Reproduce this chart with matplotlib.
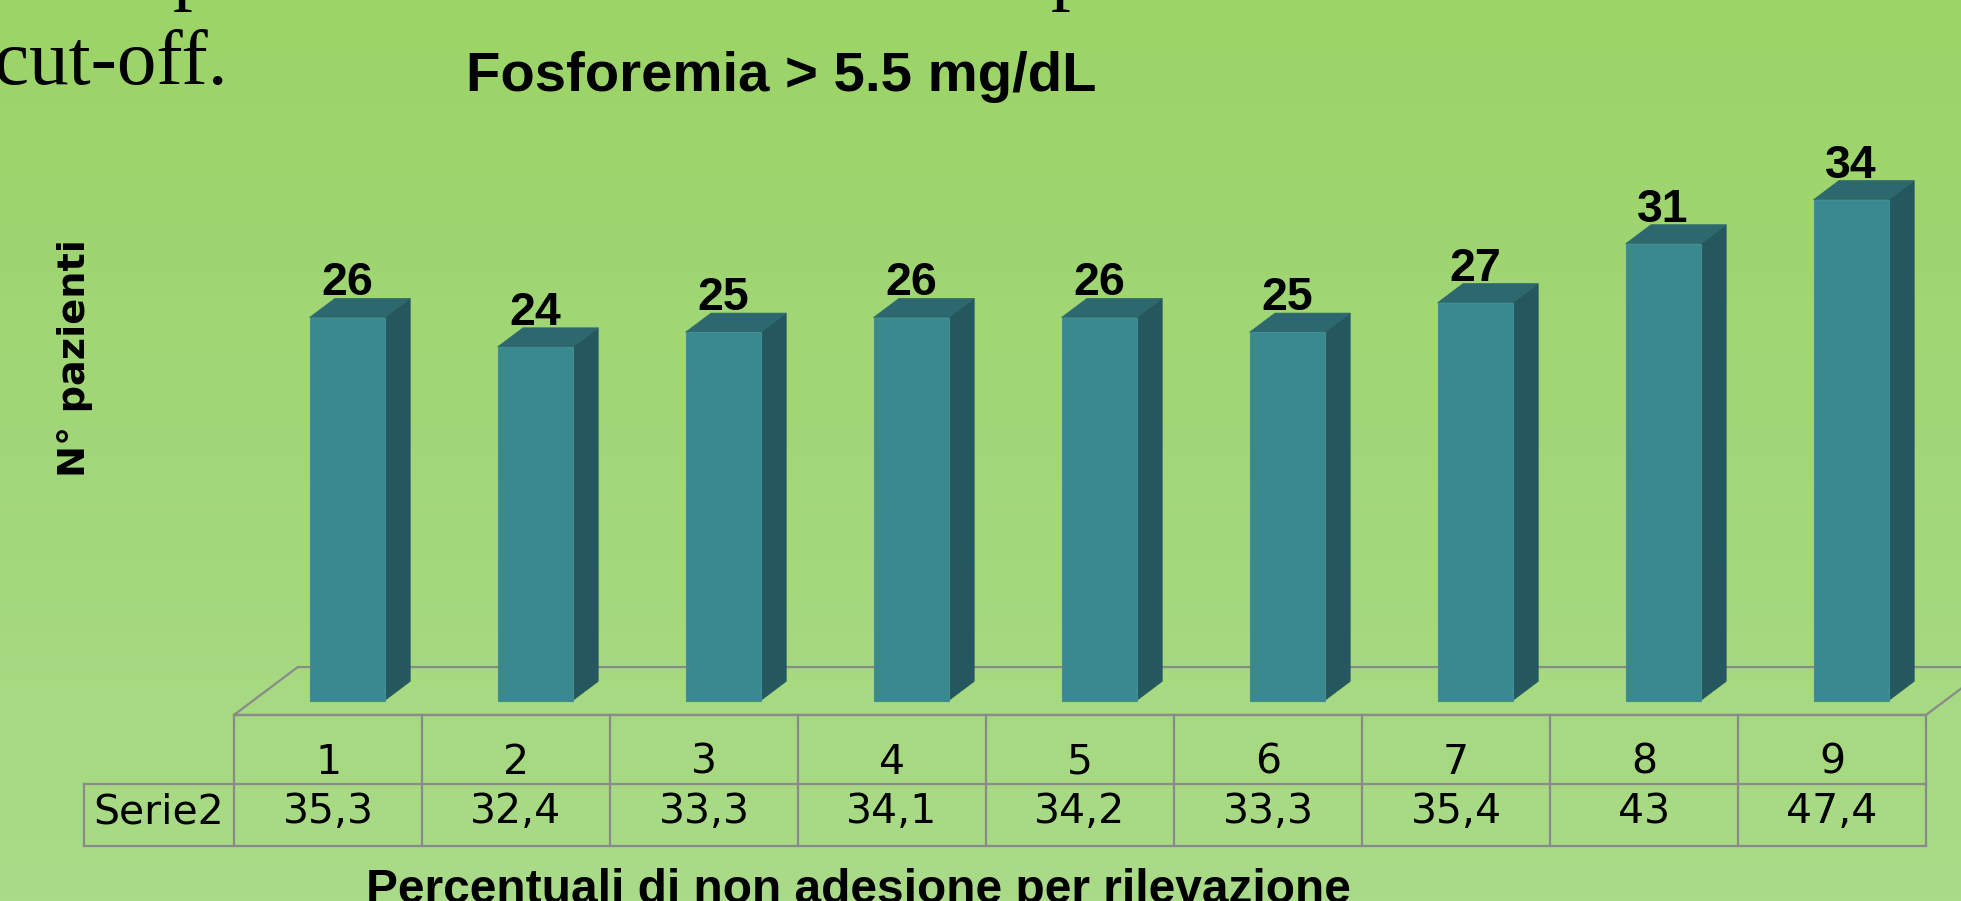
import numpy as np
import matplotlib.pyplot as plt
from matplotlib.patches import Polygon
from matplotlib.colors import LinearSegmentedColormap

categorie = ['1', '2', '3', '4', '5', '6', '7', '8', '9']
pazienti = [26, 24, 25, 26, 26, 25, 27, 31, 34]
percentuali = [35.3, 32.4, 33.3, 34.1, 34.2, 33.3, 35.4, 43, 47.4]
serie_nome = 'Serie2'

W, H = 1961, 901
fig = plt.figure(figsize=(W / 100, H / 100), dpi=100)

# slide background gradient
bg = fig.add_axes([0, 0, 1, 1])
cmap = LinearSegmentedColormap.from_list('bg', ['#9cd467', '#a2d779', '#aadb88'])
bg.imshow(np.linspace(0, 1, 256).reshape(-1, 1), aspect='auto', cmap=cmap,
          extent=[0, 1, 0, 1])
bg.set_xlim(0, 1)
bg.set_ylim(0, 1)
bg.axis('off')

# pieces of the slide text around the chart
bg.text(-0.003, 1 - 84 / H, 'cut-off.', family='Liberation Serif', fontsize=57,
        ha='left', va='baseline', transform=bg.transAxes)
for xp in (192, 1070):
    bg.text(xp / W, 1 + 5 / H, 'p', family='Liberation Serif', fontsize=57,
            ha='center', va='baseline', transform=bg.transAxes)

grey = '#8a8a8a'
front_c = '#3a898f'
side_c = '#25585e'
top_c = '#2d686e'

# main 3D-looking bar area
ymin, ymax = -0.98, 41
px_unit = 14.73
y0_pix = 700.5
bot = (H - (y0_pix - ymin * px_unit)) / H
top = (H - (y0_pix - ymax * px_unit)) / H
ax = fig.add_axes([234 / W, bot, 1692 / W, top - bot])
ax.set_xlim(-0.5, len(categorie) - 0.5)
ax.set_ylim(ymin, ymax)
ax.axis('off')

floor_dx, floor_dy = 0.339, 2.27 - ymin
n = len(categorie)
floor = [(-0.5, ymin), (n - 0.5, ymin), (n - 0.5 + floor_dx, ymin + floor_dy),
         (-0.5 + floor_dx, ymin + floor_dy)]
ax.add_patch(Polygon(floor, closed=True, fill=False, edgecolor=grey, lw=1.6,
                     clip_on=False, zorder=1))

bw = 0.4
f0, f1 = 0.3, 0.7
bdx = (f1 - f0) * floor_dx
bdy = (f1 - f0) * floor_dy
for i, v in enumerate(pazienti):
    x0 = i + f0 * floor_dx - bw / 2
    x1 = x0 + bw
    front = [(x0, 0), (x1, 0), (x1, v), (x0, v)]
    side = [(x1, 0), (x1 + bdx, bdy), (x1 + bdx, v + bdy), (x1, v)]
    cap = [(x0, v), (x1, v), (x1 + bdx, v + bdy), (x0 + bdx, v + bdy)]
    ax.add_patch(Polygon(side, closed=True, facecolor=side_c, edgecolor=side_c,
                         lw=0.5, zorder=2))
    ax.add_patch(Polygon(cap, closed=True, facecolor=top_c, edgecolor=top_c,
                         lw=0.5, zorder=2))
    ax.add_patch(Polygon(front, closed=True, facecolor=front_c, edgecolor='#3f8f95',
                         lw=0.8, zorder=3))
    ax.text((x0 + x1) / 2, v + bdy + 0.2, str(v), family='Liberation Sans',
            fontweight='bold', fontsize=33.5, ha='center', va='baseline', zorder=4)

# data table below the bars
tab = fig.add_axes([84 / W, (H - 846) / H, 1842 / W, 131 / H])
left_edge = -0.5 - 150 / 188
tab.set_xlim(left_edge, n - 0.5)
tab.set_ylim(0, 1)
tab.axis('off')
mid = 62 / 131
kw = dict(color=grey, lw=1.6, clip_on=False)
tab.plot([-0.5, n - 0.5], [1, 1], **kw)
tab.plot([left_edge, n - 0.5], [mid, mid], **kw)
tab.plot([left_edge, n - 0.5], [0, 0], **kw)
for k in range(n + 1):
    tab.plot([k - 0.5, k - 0.5], [0, 1], **kw)
tab.plot([left_edge, left_edge], [0, mid], **kw)

for i, (c, p) in enumerate(zip(categorie, percentuali)):
    tab.text(i, (846 - 774) / 131, c, family='DejaVu Sans', fontsize=29.5,
             ha='center', va='baseline')
    tab.text(i, (846 - 823) / 131, f'{p:g}'.replace('.', ','), family='DejaVu Sans',
             fontsize=29.5, ha='center', va='baseline')
tab.text((left_edge - 0.5) / 2, (846 - 823) / 131, serie_nome, family='DejaVu Sans',
         fontsize=29.5, ha='center', va='baseline')

# titles
fig.text(781 / W, 1 - 91 / H, 'Fosforemia > 5.5 mg/dL', family='Liberation Sans',
         fontweight='bold', fontsize=40.5, ha='center', va='baseline')
fig.text(75 / W, 1 - 358 / H, 'N° pazienti', family='DejaVu Sans', fontweight='bold',
         fontsize=27.5, rotation=90, ha='center', va='center')
fig.text(858 / W, 1 - 903 / H, 'Percentuali di non adesione per rilevazione',
         family='Liberation Sans', fontweight='bold', fontsize=34.5,
         ha='center', va='baseline')

fig.savefig('out.png', dpi=100)
